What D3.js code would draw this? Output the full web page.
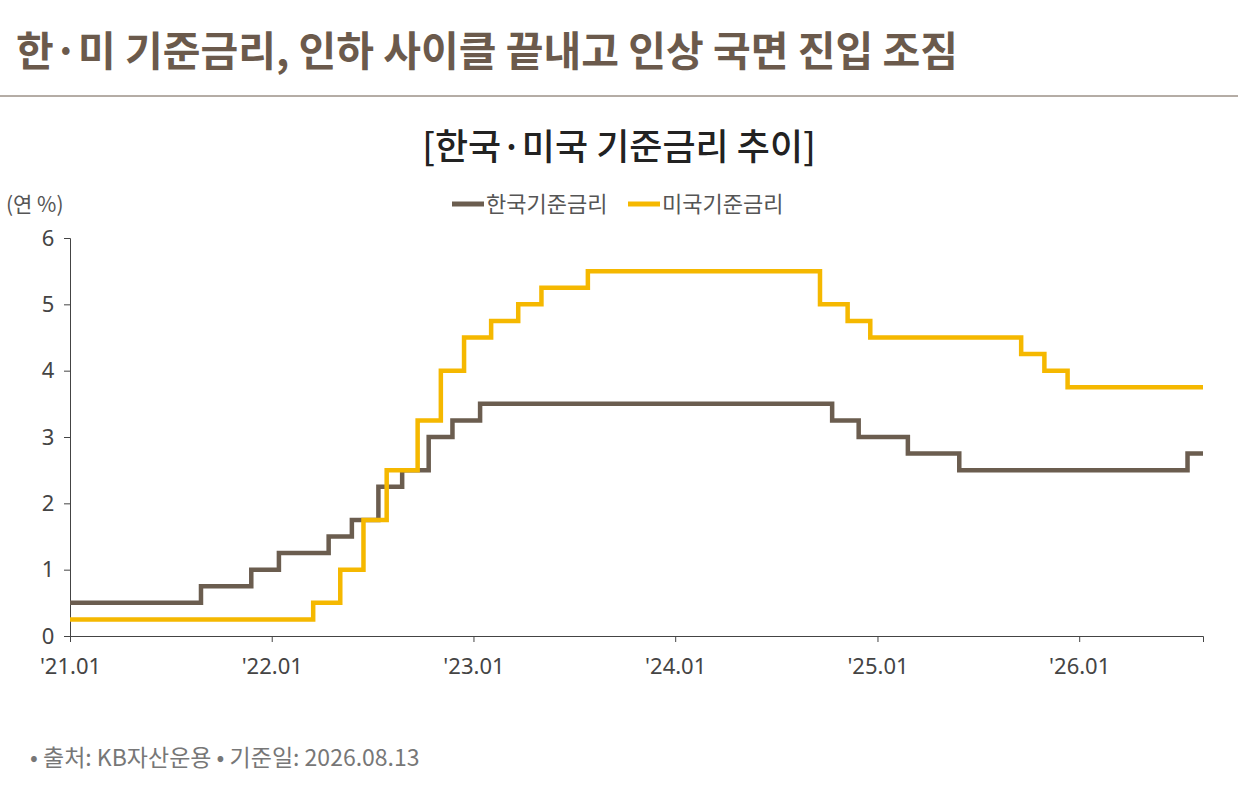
<!DOCTYPE html>
<html><head><meta charset="utf-8">
<script src="https://cdn.jsdelivr.net/npm/d3@7"></script>
<style>body{margin:0;background:#fff;font-family:"Noto Sans CJK KR","Noto Sans",sans-serif;}</style>
</head><body><svg id="c" width="1238" height="804"></svg>
<script>
// step dates (change points) and rates
var krDates = ["2021-01-01","2021-08-26","2021-11-25","2022-01-14","2022-04-14","2022-05-26","2022-07-13","2022-08-25","2022-10-12","2022-11-24","2023-01-13","2024-10-11","2024-11-28","2025-02-25","2025-05-29","2026-07-16","2026-08-13"];
var krRates = [0.5,0.75,1.0,1.25,1.5,1.75,2.25,2.5,3.0,3.25,3.5,3.25,3.0,2.75,2.5,2.75,2.75];
var usDates = ["2021-01-01","2022-03-17","2022-05-05","2022-06-16","2022-07-28","2022-09-22","2022-11-03","2022-12-15","2023-02-02","2023-03-23","2023-05-04","2023-07-27","2024-09-19","2024-11-08","2024-12-19","2025-09-18","2025-10-30","2025-12-11","2026-08-13"];
var usRates = [0.25,0.5,1.0,1.75,2.5,3.25,4.0,4.5,4.75,5.0,5.25,5.5,5.0,4.75,4.5,4.25,4.0,3.75,3.75];
var xTickLabels = ["'21.01","'22.01","'23.01","'24.01","'25.01","'26.01"];
var yTicks = [0,1,2,3,4,5,6];

var svg = d3.select("#c");
var parse = d3.timeParse("%Y-%m-%d");
var x = d3.scaleTime().domain([parse("2021-01-01"), parse("2026-08-13")]).range([70, 1203]);
var y = d3.scaleLinear().domain([0,6]).range([636,238]);

svg.append("text").attr("x",16).attr("y",66).attr("font-size",41).attr("font-weight",700)
  .attr("fill","#6b5a4c").text("한·미 기준금리, 인하 사이클 끝내고 인상 국면 진입 조짐");
svg.append("line").attr("x1",0).attr("x2",1238).attr("y1",96).attr("y2",96).attr("stroke","#6b5a4c").attr("stroke-width",1);
svg.append("text").attr("x",619).attr("y",160).attr("text-anchor","middle").attr("font-size",36).attr("font-weight",500)
  .attr("fill","#222").text("[한국·미국 기준금리 추이]");
svg.append("text").attr("x",6).attr("y",212).attr("font-size",21).attr("fill","#555").text("(연 %)");

var legend = [{n:"한국기준금리",c:"#6b5d4f",x:452},{n:"미국기준금리",c:"#f5b800",x:628}];
legend.forEach(function(d){
  svg.append("line").attr("x1",d.x).attr("x2",d.x+32).attr("y1",204).attr("y2",204).attr("stroke",d.c).attr("stroke-width",5);
  svg.append("text").attr("x",d.x+34).attr("y",212).attr("font-size",22).attr("fill","#555").text(d.n);
});

var ya = svg.append("g").attr("transform","translate(70,0)").call(d3.axisLeft(y).tickValues(yTicks).tickSize(6).tickFormat(d3.format("d")));
var xTickDates = xTickLabels.map(function(s){return parse("20"+s.slice(1,3)+"-01-01");});
var xa = svg.append("g").attr("transform","translate(0,636)").call(d3.axisBottom(x).tickValues(xTickDates).tickSize(6).tickFormat(function(d,i){return xTickLabels[i];}));
[ya,xa].forEach(function(g){
  g.selectAll("path,line").attr("stroke","#444");
  g.selectAll("text").attr("font-size",22).attr("fill","#444").attr("font-family","Noto Sans, sans-serif");
});
xa.selectAll("text").attr("dy","1.3em");
ya.selectAll("text").attr("dx","-0.3em");

var line = d3.line().curve(d3.curveStepAfter).x(function(d){return x(d[0]);}).y(function(d){return y(d[1]);});
function series(ds, rs){return ds.map(function(s,i){return [parse(s), rs[i]];});}
svg.append("path").datum(series(krDates,krRates)).attr("d",line).attr("fill","none").attr("stroke","#6b5d4f").attr("stroke-width",4.5);
svg.append("path").datum(series(usDates,usRates)).attr("d",line).attr("fill","none").attr("stroke","#f5b800").attr("stroke-width",4.5);

svg.append("text").attr("x",30).attr("y",766).attr("font-size",23).attr("fill","#777").text("• 출처: KB자산운용 • 기준일: 2026.08.13");
</script></body></html>
